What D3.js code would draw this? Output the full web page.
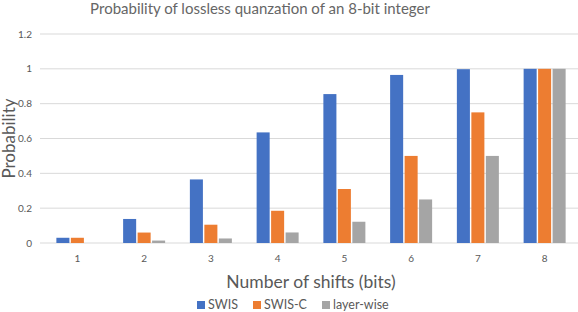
<!DOCTYPE html>
<html>
<head>
<meta charset="utf-8">
<script src="https://cdn.jsdelivr.net/npm/d3@7"></script>
<style>
  body { margin: 0; background: #fff; }
  text { font-family: Lato, "Open Sans", sans-serif; fill: #595959; }
</style>
</head>
<body>
<svg id="chart" width="578" height="312"></svg>
<script>
const shifts = ["1", "2", "3", "4", "5", "6", "7", "8"];
const seriesNames = ["SWIS", "SWIS-C", "layer-wise"];
const swis = [0.03, 0.138, 0.365, 0.635, 0.855, 0.965, 0.998, 1.0];
const swisC = [0.03, 0.06, 0.105, 0.185, 0.31, 0.5, 0.75, 1.0];
const layerWise = [0, 0.014, 0.026, 0.0605, 0.122, 0.25, 0.5, 1.0];
const yTicks = [0, 0.2, 0.4, 0.6, 0.8, 1, 1.2];
const colors = ["#4472C4", "#ED7D31", "#A5A5A5"];

const allSeries = [swis, swisC, layerWise];
const data = shifts.map((s, i) => ({ shift: s, values: allSeries.map((arr) => arr[i]) }));

const width = 578, height = 312;
const margin = { top: 34, right: 0, bottom: 69, left: 44 };
const innerWidth = width - margin.left - margin.right;
const innerHeight = height - margin.top - margin.bottom;

const svg = d3.select("#chart");
const g = svg.append("g").attr("transform", `translate(${margin.left},${margin.top})`);

const x = d3.scaleBand().domain(shifts).range([0, innerWidth]);
const xInner = d3.scaleBand().domain(seriesNames).range([0, 42]).paddingInner(0.1);
const y = d3.scaleLinear().domain([0, 1.2]).range([innerHeight, 0]);

// gridlines
g.selectAll(".grid").data(yTicks).join("line")
  .attr("x1", -4).attr("x2", innerWidth)
  .attr("y1", (d) => y(d)).attr("y2", (d) => y(d))
  .attr("stroke", "#D9D9D9").attr("stroke-width", 1);

// y tick labels
g.selectAll(".ytick").data(yTicks).join("text")
  .attr("x", -12).attr("y", (d) => y(d)).attr("dy", "0.35em")
  .attr("text-anchor", "end").style("font-size", "10px")
  .text((d) => d);

// bars
const groups = g.selectAll(".grp").data(data).join("g")
  .attr("transform", (d) => `translate(${x(d.shift) + x.bandwidth() / 2 - 21},0)`);
groups.selectAll("rect").data((d) => d.values.map((v, j) => ({ v, name: seriesNames[j], j }))).join("rect")
  .attr("x", (d) => xInner(d.name))
  .attr("width", xInner.bandwidth())
  .attr("y", (d) => y(d.v))
  .attr("height", (d) => innerHeight - y(d.v))
  .attr("fill", (d) => colors[d.j]);

// x tick labels
g.selectAll(".xtick").data(shifts).join("text")
  .attr("x", (d) => x(d) + x.bandwidth() / 2).attr("y", innerHeight + 19)
  .attr("text-anchor", "middle").style("font-size", "10px")
  .text((d) => d);

// titles
svg.append("text").attr("x", 260).attr("y", 14).attr("text-anchor", "middle")
  .style("font-size", "15px").style("fill", "#666").text("Probability of lossless quanzation of an 8-bit integer");
svg.append("text").attr("x", margin.left + innerWidth / 2).attr("y", 288).attr("text-anchor", "middle")
  .style("font-size", "17.5px").text("Number of shifts (bits)");
svg.append("text").attr("transform", `translate(15,${margin.top + innerHeight / 2}) rotate(-90)`)
  .attr("text-anchor", "middle").style("font-size", "17px").text("Probability");

// legend
const legendX = [197, 253, 322];
const legend = svg.selectAll(".legend").data(seriesNames).join("g")
  .attr("transform", (d, i) => `translate(${legendX[i]},309)`);
legend.append("rect").attr("x", 0).attr("y", -8).attr("width", 8).attr("height", 8)
  .attr("fill", (d, i) => colors[i]);
legend.append("text").attr("x", 11).attr("y", 0).style("font-size", "12.5px").text((d) => d);
</script>
</body>
</html>
